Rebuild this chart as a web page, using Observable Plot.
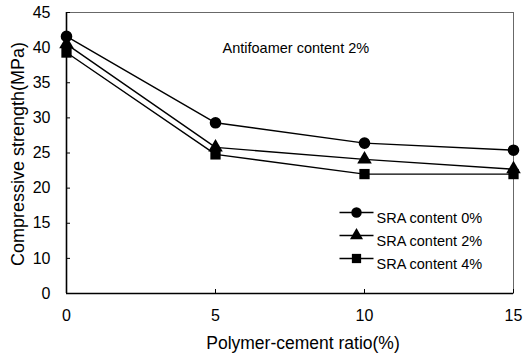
<!DOCTYPE html>
<html>
<head>
<meta charset="utf-8">
<script src="https://cdn.jsdelivr.net/npm/d3@7"></script>
<script src="https://cdn.jsdelivr.net/npm/@observablehq/plot@0.6"></script>
<style>
  html, body { margin: 0; padding: 0; background: #fff; }
  #chart { width: 525px; height: 354px; }
</style>
</head>
<body>
<div id="chart"></div>
<script>
// Polymer-cement ratio (%) on the x axis
const polymerRatio = [0, 5, 10, 15];

// Compressive strength (MPa) for each SRA content
const sra0 = [41.6, 29.3, 26.4, 25.4];
const sra2 = [40.5, 25.8, 24.1, 22.7];
const sra4 = [39.3, 24.8, 22.0, 22.0];

const seriesNames = ["SRA content 0%", "SRA content 2%", "SRA content 4%"];
const seriesSymbols = ["circle", "triangle", "square"];
const seriesValues = [sra0, sra2, sra4];

// Axis ticks and their printed labels
const xTicks = [0, 5, 10, 15];
const yTicks = [5, 10, 15, 20, 25, 30, 35, 40, 45];
const yTickLabels = ["0", "10", "15", "20", "25", "30", "35", "40", "45"];

const xTitle = "Polymer-cement ratio(%)";
const yTitle = "Compressive strength(MPa)";
const noteText = "Antifoamer content 2%";

// Marker radius per symbol
const markerSize = {circle: 5.8, triangle: 5.4, square: 5.8};

// Long-format table for the marks
const rows = seriesNames.flatMap((name, s) =>
  polymerRatio.map((x, i) => ({series: name, symbol: seriesSymbols[s], x, y: seriesValues[s][i]}))
);

// Horizontal stroke used as the legend's line sample
const legendStroke = {draw(ctx) { ctx.moveTo(-17, 0); ctx.lineTo(17, 0); }};

const legendMarks = seriesNames.flatMap((name, i) => {
  const dy = 200 + i * 23;
  return [
    Plot.dot([name], {frameAnchor: "top-left", dx: 290, dy, symbol: legendStroke, r: 1, stroke: "black", strokeWidth: 1.3, fill: "none"}),
    Plot.dot([name], {frameAnchor: "top-left", dx: 290, dy, symbol: seriesSymbols[i], r: markerSize[seriesSymbols[i]] * 0.9, fill: "black", stroke: "none"}),
    Plot.text([name], {frameAnchor: "top-left", dx: 310, dy, text: d => d, textAnchor: "start", fontSize: 14.5, fill: "black", style: "letter-spacing:-0.6px"})
  ];
});

const chart = Plot.plot({
  width: 525,
  height: 354,
  marginLeft: 66,
  marginRight: 12,
  marginTop: 12,
  marginBottom: 61,
  style: {fontFamily: "'Liberation Sans', Arial, sans-serif", fontSize: "16px", color: "black", background: "white"},
  x: {domain: [0, 15]},
  y: {domain: [5, 45]},
  r: {type: "identity"},
  symbol: {domain: seriesSymbols, range: seriesSymbols},
  marks: [
    Plot.frame({stroke: "#444", strokeWidth: 0.8}),
    Plot.ruleX([0], {stroke: "black", strokeWidth: 1.6}),
    Plot.ruleY([5], {stroke: "black", strokeWidth: 1.6}),
    Plot.axisX({ticks: xTicks, tickSize: -4, tickPadding: 20, tickFormat: d => String(d), label: null}),
    Plot.axisY({ticks: yTicks, tickSize: -4, tickPadding: 20,
      tickFormat: d => yTickLabels[yTicks.indexOf(d)], label: null}),
    Plot.text([xTitle], {frameAnchor: "bottom", dx: 13, dy: 55, text: d => d, fontSize: 17.5, fill: "black", style: "letter-spacing:-0.4px"}),
    Plot.text([yTitle], {frameAnchor: "left", dx: -48, dy: 1, rotate: -90, textAnchor: "middle", text: d => d, fontSize: 18, fill: "black", style: "letter-spacing:0.6px"}),
    Plot.line(rows, {x: "x", y: "y", z: "series", stroke: "black", strokeWidth: 1.4}),
    Plot.dot(rows, {x: "x", y: "y", symbol: "symbol", r: d => markerSize[d.symbol], fill: "black", stroke: "none"}),
    Plot.text([noteText], {frameAnchor: "top-left", dx: 156, dy: 30, text: d => d, textAnchor: "start", fontSize: 14.5, fill: "black", style: "letter-spacing:-0.6px"}),
    ...legendMarks
  ]
});

document.getElementById("chart").appendChild(chart);
</script>
</body>
</html>
